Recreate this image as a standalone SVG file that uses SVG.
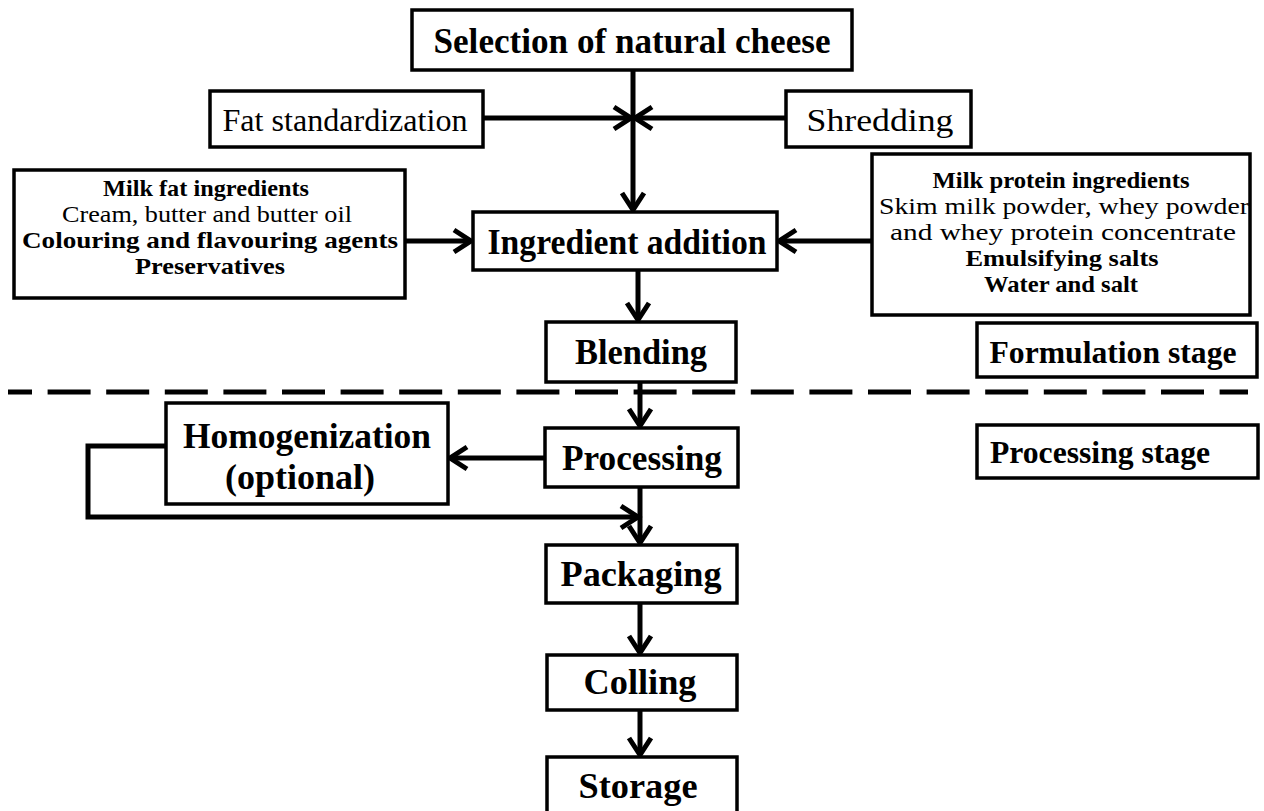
<svg xmlns="http://www.w3.org/2000/svg" width="1264" height="811" viewBox="0 0 1264 811">
<defs>
<style>
.box{fill:#fff;stroke:#000;stroke-width:3.5}
.t{font-family:"Liberation Serif","Times New Roman",serif;fill:#000;text-anchor:middle}
.b{font-weight:bold}
.big{font-size:36px}
.mid{font-size:32px}
.st{font-size:32px}
.sm{font-size:24px}
.conn{stroke:#000;stroke-width:5;fill:none}
</style>
<marker id="ah" markerUnits="userSpaceOnUse" markerWidth="26" markerHeight="30" refX="19" refY="14" orient="auto">
<path d="M2,3 L19,14 L2,25" fill="none" stroke="#000" stroke-width="5" stroke-linejoin="miter"/>
</marker>
</defs>
<rect width="1264" height="811" fill="#fff"/>
<g id="connectors">
<line class="conn" x1="8" y1="392" x2="1248" y2="392" stroke-dasharray="43 15.6" stroke-dashoffset="19"/>
<line class="conn" x1="633" y1="70" x2="633" y2="210" marker-end="url(#ah)"/>
<line class="conn" x1="483" y1="118" x2="631" y2="118" marker-end="url(#ah)"/>
<line class="conn" x1="786" y1="118" x2="635" y2="118" marker-end="url(#ah)"/>
<line class="conn" x1="405" y1="241" x2="471" y2="241" marker-end="url(#ah)"/>
<line class="conn" x1="872" y1="241" x2="779" y2="241" marker-end="url(#ah)"/>
<line class="conn" x1="638" y1="270" x2="638" y2="320" marker-end="url(#ah)"/>
<line class="conn" x1="640" y1="382" x2="640" y2="426" marker-end="url(#ah)"/>
<line class="conn" x1="545" y1="458" x2="450" y2="458" marker-end="url(#ah)"/>
<polyline class="conn" points="166,446 88,446 88,517 638,517" marker-end="url(#ah)"/>
<line class="conn" x1="640" y1="487" x2="640" y2="543" marker-end="url(#ah)"/>
<line class="conn" x1="640" y1="603" x2="640" y2="653" marker-end="url(#ah)"/>
<line class="conn" x1="640" y1="710" x2="640" y2="755" marker-end="url(#ah)"/>
</g>
<g id="selection">
<rect class="box" x="412" y="10" width="440" height="60"/>
<text class="t b big" x="632" y="53" textLength="397" lengthAdjust="spacingAndGlyphs">Selection of natural cheese</text>
</g>
<g id="fat-standardization">
<rect class="box" x="210" y="91" width="273" height="56"/>
<text class="t mid" x="345" y="131" textLength="245" lengthAdjust="spacingAndGlyphs">Fat standardization</text>
</g>
<g id="shredding">
<rect class="box" x="786" y="91" width="185" height="56"/>
<text class="t mid" x="880" y="131" textLength="147" lengthAdjust="spacingAndGlyphs">Shredding</text>
</g>
<g id="milk-fat">
<rect class="box" x="14" y="170" width="391" height="128"/>
<text class="t b sm" x="206" y="196" textLength="206" lengthAdjust="spacingAndGlyphs">Milk fat ingredients</text>
<text class="t sm" x="207" y="222" textLength="290" lengthAdjust="spacingAndGlyphs">Cream, butter and butter oil</text>
<text class="t b sm" x="210" y="248" textLength="376" lengthAdjust="spacingAndGlyphs">Colouring and  flavouring agents</text>
<text class="t b sm" x="210" y="274" textLength="150" lengthAdjust="spacingAndGlyphs">Preservatives</text>
</g>
<g id="ingredient-addition">
<rect class="box" x="473" y="212" width="304" height="58"/>
<text class="t b big" x="627" y="254" textLength="279" lengthAdjust="spacingAndGlyphs">Ingredient addition</text>
</g>
<g id="milk-protein">
<rect class="box" x="872" y="154" width="378" height="161"/>
<text class="t b sm" x="1061" y="188" textLength="257" lengthAdjust="spacingAndGlyphs">Milk protein ingredients</text>
<text class="t sm" x="1064" y="214" textLength="370" lengthAdjust="spacingAndGlyphs">Skim milk powder, whey powder</text>
<text class="t sm" x="1063" y="240" textLength="346" lengthAdjust="spacingAndGlyphs">and whey protein concentrate</text>
<text class="t b sm" x="1062" y="266" textLength="193" lengthAdjust="spacingAndGlyphs">Emulsifying salts</text>
<text class="t b sm" x="1061" y="292" textLength="154" lengthAdjust="spacingAndGlyphs">Water and salt</text>
</g>
<g id="blending">
<rect class="box" x="546" y="322" width="190" height="60"/>
<text class="t b big" x="641" y="364" textLength="132" lengthAdjust="spacingAndGlyphs">Blending</text>
</g>
<g id="formulation-stage">
<rect class="box" x="977" y="323" width="280" height="54"/>
<text class="t b st" x="1113" y="363" textLength="247" lengthAdjust="spacingAndGlyphs">Formulation stage</text>
</g>
<g id="homogenization">
<rect class="box" x="166" y="403" width="282" height="101"/>
<text class="t b big" x="307" y="448" textLength="248" lengthAdjust="spacingAndGlyphs">Homogenization</text>
<text class="t b big" x="300" y="489" textLength="150" lengthAdjust="spacingAndGlyphs">(optional)</text>
</g>
<g id="processing">
<rect class="box" x="545" y="428" width="193" height="59"/>
<text class="t b big" x="642" y="470" textLength="160" lengthAdjust="spacingAndGlyphs">Processing</text>
</g>
<g id="processing-stage">
<rect class="box" x="977" y="425" width="281" height="53"/>
<text class="t b st" x="1100" y="463" textLength="220" lengthAdjust="spacingAndGlyphs">Processing stage</text>
</g>
<g id="packaging">
<rect class="box" x="546" y="545" width="191" height="58"/>
<text class="t b big" x="641" y="586" textLength="161" lengthAdjust="spacingAndGlyphs">Packaging</text>
</g>
<g id="colling">
<rect class="box" x="547" y="655" width="190" height="55"/>
<text class="t b big" x="640" y="694" textLength="113" lengthAdjust="spacingAndGlyphs">Colling</text>
</g>
<g id="storage">
<rect class="box" x="547" y="757" width="190" height="60"/>
<text class="t b big" x="638" y="798" textLength="119" lengthAdjust="spacingAndGlyphs">Storage</text>
</g>
</svg>
